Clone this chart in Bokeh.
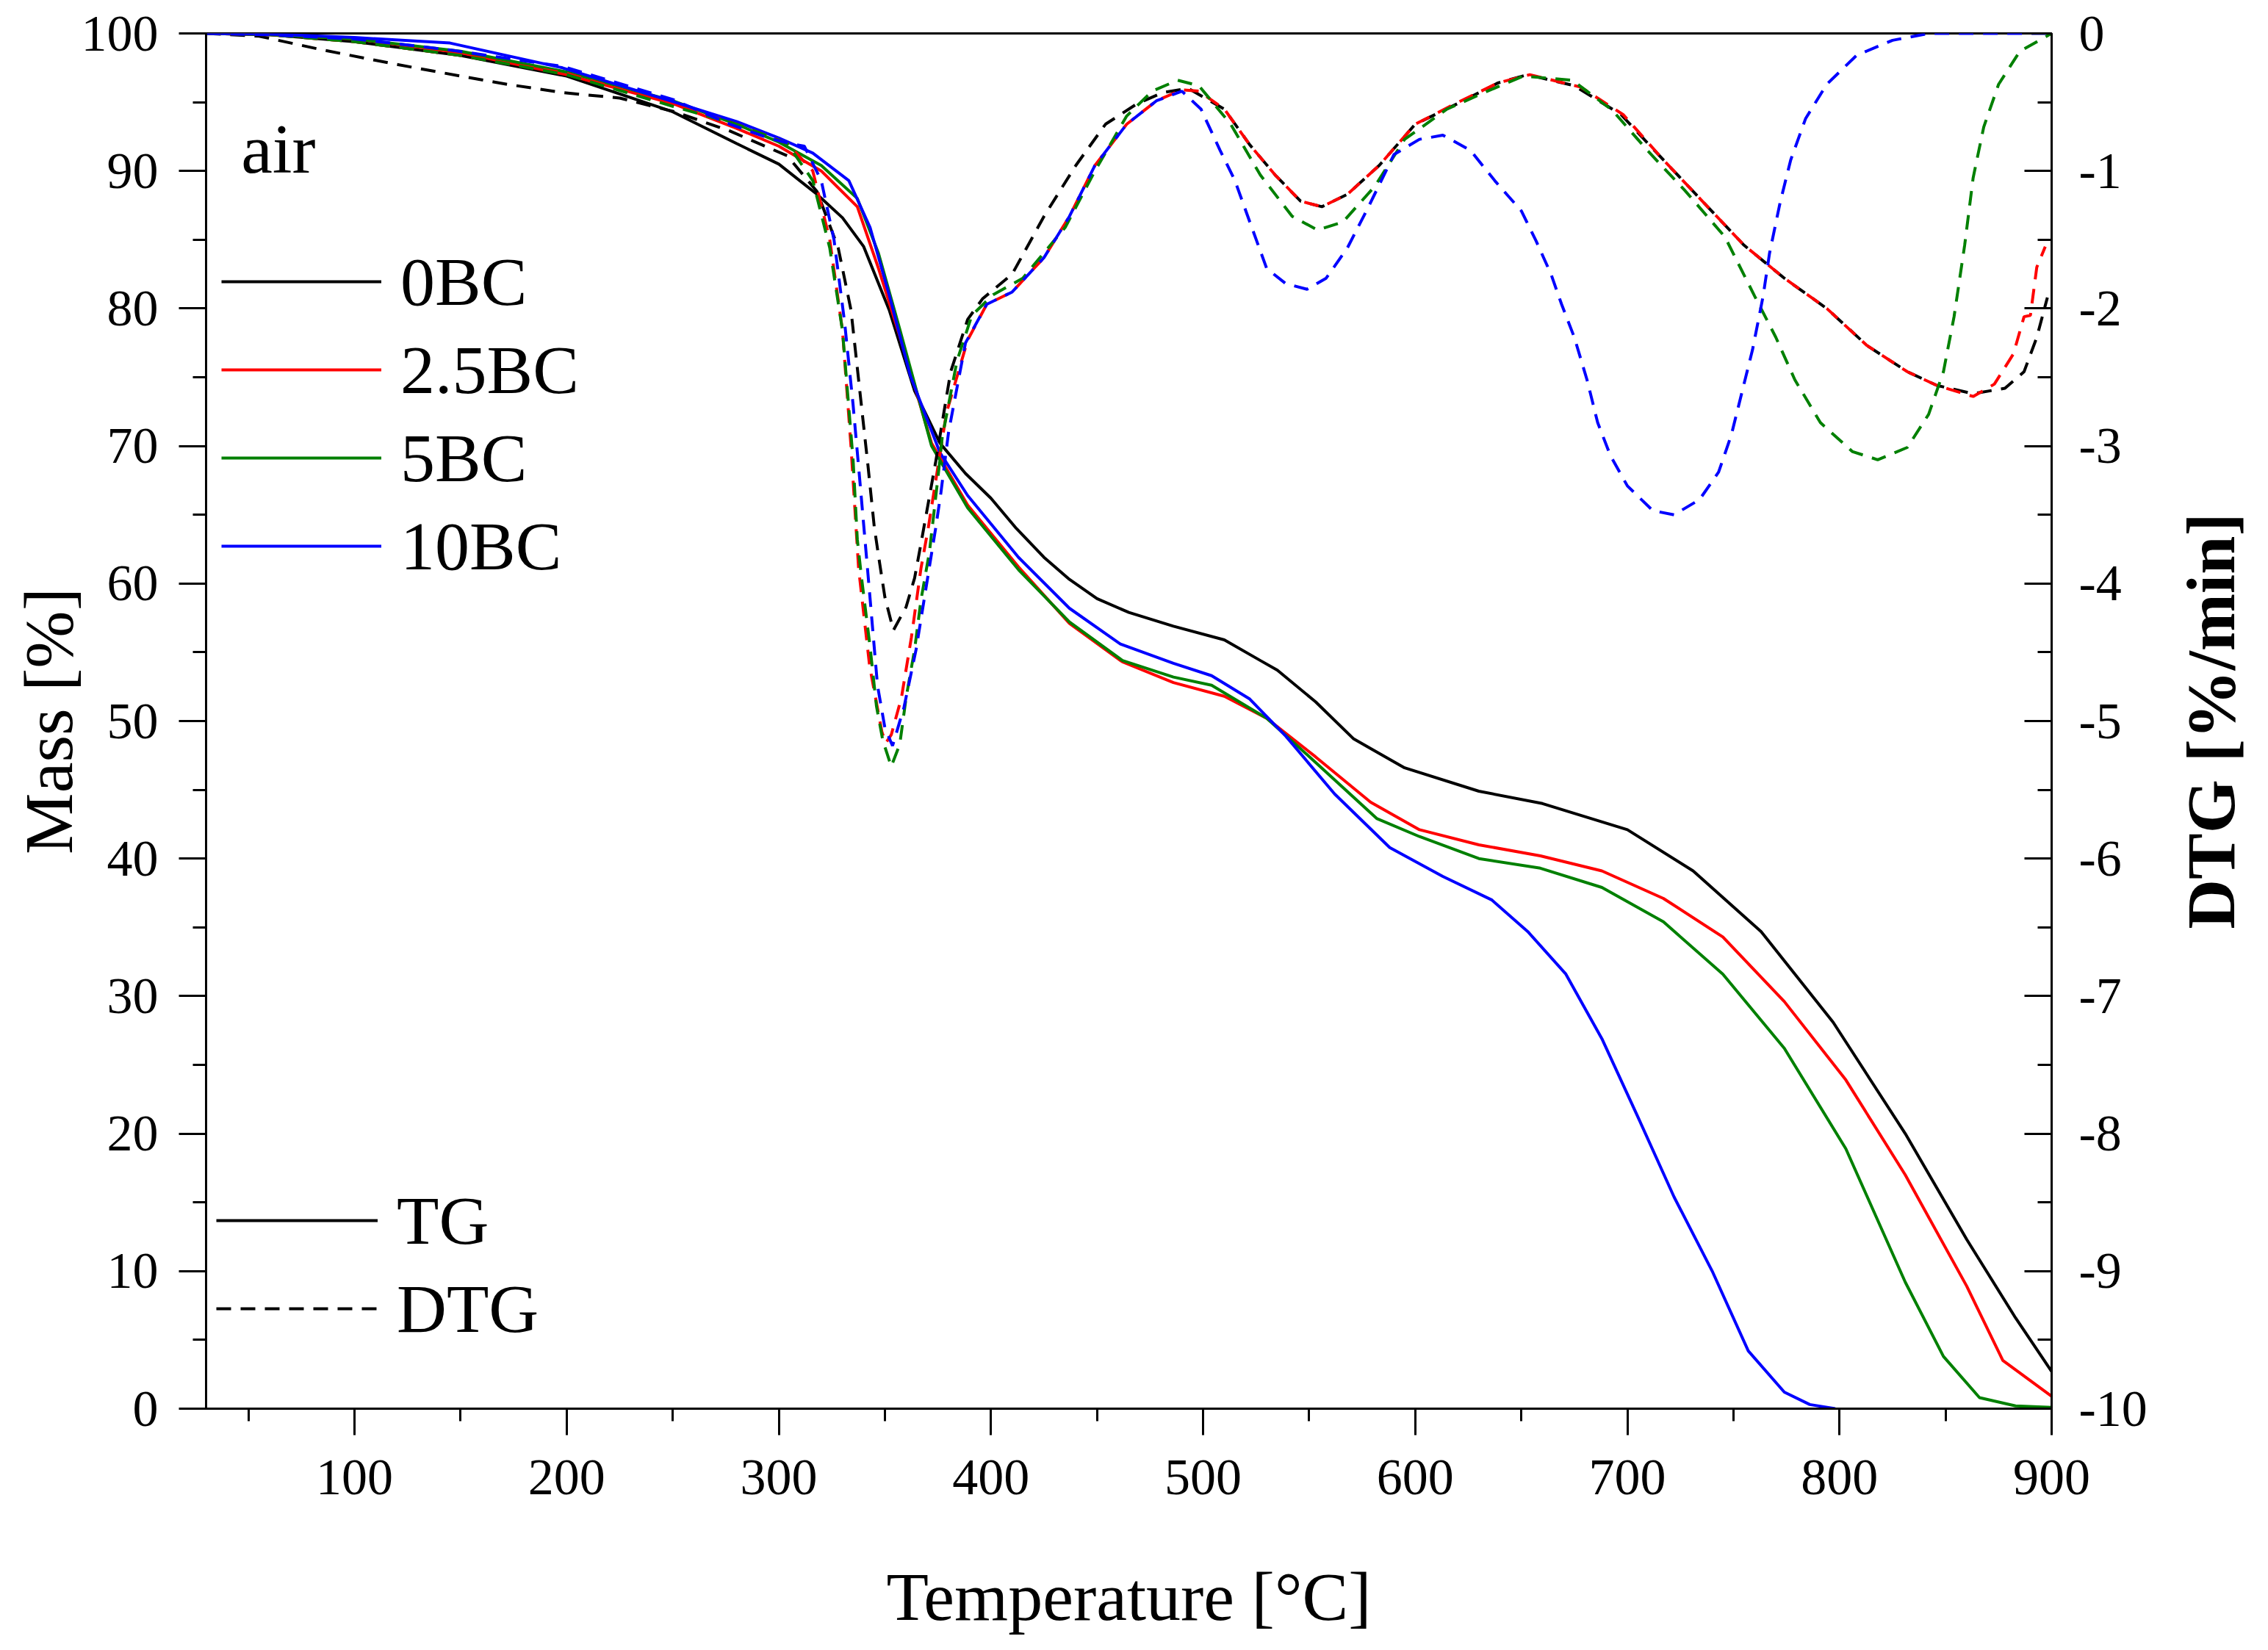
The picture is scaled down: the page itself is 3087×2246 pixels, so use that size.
import math
from bokeh.plotting import figure
from bokeh.models import (Range1d, LinearAxis, FixedTicker, Legend, LegendItem, Label,
                          PrintfTickFormatter)
from bokeh.embed import file_html
from bokeh.resources import INLINE

FONT = "Liberation Serif"

# TG curves: (temperature [C], mass [%])
tg_0bc = [(30, 100), (60, 99.9), (100, 99.4), (150, 98.4), (200, 96.9), (250, 94.3), (280, 92.0),
          (300, 90.5), (318, 88.3), (330, 86.6), (340, 84.5), (352, 79.9), (364, 74.0), (376, 70.2),
          (388, 68.0), (400, 66.2), (412, 64.0), (425, 61.9), (437, 60.3), (450, 58.9), (465, 57.9),
          (486, 56.9), (510, 55.9), (527, 54.4), (535, 53.7), (553, 51.4), (571, 48.7), (595, 46.6),
          (630, 44.9), (660, 44.0), (700, 42.1), (731, 39.1), (763, 34.7), (797, 28.1), (831, 20.0),
          (860, 12.3), (883, 6.6), (900, 2.7)]
tg_25bc = [(30, 100), (60, 99.9), (100, 99.6), (150, 98.6), (200, 97.0), (250, 94.9), (280, 93.1),
           (300, 91.8), (320, 90.0), (337, 87.4), (347, 82.9), (357, 78.0), (372, 70.2), (389, 65.7),
           (413, 61.2), (437, 57.1), (462, 54.3), (486, 52.8), (510, 51.8), (530, 50.2), (553, 47.4),
           (579, 44.1), (602, 42.1), (630, 41.0), (659, 40.2), (688, 39.1), (717, 37.1), (745, 34.3),
           (774, 29.6), (803, 23.9), (831, 17.0), (860, 8.9), (877, 3.5), (900, 0.9)]
tg_5bc = [(30, 100), (60, 99.9), (100, 99.6), (150, 98.7), (200, 97.2), (250, 95.1), (280, 93.4),
          (300, 92.1), (320, 90.4), (337, 88.0), (347, 84.0), (357, 78.5), (372, 70.0), (389, 65.5),
          (413, 61.0), (437, 57.2), (462, 54.4), (486, 53.2), (504, 52.6), (530, 50.2), (553, 47.0),
          (582, 42.9), (602, 41.6), (630, 40.0), (659, 39.3), (688, 37.9), (717, 35.4), (745, 31.6),
          (774, 26.2), (803, 18.9), (831, 9.2), (849, 3.8), (866, 0.8), (883, 0.2), (900, 0.1)]
tg_10bc = [(30, 100), (60, 99.95), (100, 99.7), (145, 99.3), (198, 97.5), (251, 95.0), (280, 93.6),
           (300, 92.4), (316, 91.3), (333, 89.3), (343, 85.9), (352, 81.0), (362, 75.1), (376, 69.5),
           (389, 66.4), (413, 61.9), (437, 58.2), (461, 55.6), (486, 54.2), (504, 53.3), (522, 51.6),
           (539, 48.9), (562, 44.7), (588, 40.8), (613, 38.7), (636, 37.0), (653, 34.7), (671, 31.6),
           (688, 26.9), (705, 21.2), (722, 15.4), (740, 10.0), (757, 4.2), (774, 1.2), (786, 0.3),
           (798, 0.0)]

# DTG curves: (temperature [C], DTG [%/min])
dtg_0bc = [(30, 0), (55, -0.02), (85, -0.12), (118, -0.22), (150, -0.31), (172, -0.37), (198, -0.43),
           (225, -0.47), (251, -0.57), (277, -0.71), (304, -0.89), (318, -1.15), (328, -1.56),
           (334, -2.01), (342, -3.14), (345, -3.59), (347.5, -3.85), (350, -4.1), (354, -4.34),
           (360, -4.17), (364, -3.96), (367, -3.71), (370.5, -3.41), (374, -3.11), (381, -2.46),
           (389, -2.08), (396, -1.93), (410, -1.75), (425, -1.33), (440, -0.96), (454, -0.66),
           (469, -0.51), (481, -0.43), (493, -0.40), (510, -0.55), (522, -0.81), (534, -1.03),
           (546, -1.22), (556, -1.26), (568, -1.17), (583, -0.96), (600, -0.66), (620, -0.51),
           (639, -0.36), (653, -0.30), (675, -0.38), (697, -0.59), (717, -0.92), (736, -1.23),
           (755, -1.54), (774, -1.78), (794, -2.0), (813, -2.27), (832, -2.46), (846, -2.56),
           (863, -2.62), (878, -2.58), (887, -2.46), (893, -2.21), (898, -1.92)]
dtg_25bc = [(30, 0), (60, -0.01), (100, -0.06), (150, -0.16), (200, -0.29), (250, -0.52), (280, -0.66),
            (304, -0.80), (316, -1.0), (324, -1.5), (330, -2.16), (334, -3.0), (337.6, -3.89),
            (342.8, -4.6), (348.6, -5.08), (350.4, -5.16), (353, -5.1), (357.8, -4.83), (362.5, -4.39),
            (367, -3.89), (370.5, -3.59), (379, -2.76), (389, -2.23), (398, -1.97), (410, -1.88),
            (425, -1.63), (437, -1.33), (449, -0.96), (464, -0.66), (478, -0.49), (490, -0.41),
            (498, -0.42), (510, -0.55), (522, -0.81), (534, -1.03), (546, -1.22), (556, -1.26),
            (568, -1.17), (583, -0.96), (600, -0.66), (619, -0.51), (639, -0.36), (654, -0.30),
            (678, -0.39), (698, -0.59), (717, -0.92), (736, -1.23), (755, -1.54), (774, -1.78),
            (794, -2.0), (813, -2.27), (832, -2.46), (846, -2.56), (863, -2.64), (873, -2.55),
            (882, -2.33), (887, -2.06), (890, -2.05), (893, -1.7), (897, -1.55)]
dtg_5bc = [(30, 0), (60, -0.01), (100, -0.06), (150, -0.16), (200, -0.3), (250, -0.53), (280, -0.66),
           (304, -0.80), (316, -1.07), (324, -1.56), (330, -2.16), (335, -3.1), (337, -3.68),
           (339, -3.96), (343, -4.46), (346, -4.89), (349, -5.14), (353, -5.33), (357, -5.17),
           (360, -4.83), (364, -4.48), (367, -4.12), (371, -3.77), (373, -3.5), (375, -3.23),
           (377, -2.94), (384, -2.38), (391, -2.05), (401, -1.90), (415, -1.78), (435, -1.41),
           (449, -1.0), (464, -0.6), (476, -0.42), (488, -0.34), (498, -0.38), (513, -0.66),
           (527, -1.03), (542, -1.33), (554, -1.43), (566, -1.37), (581, -1.11), (595, -0.77),
           (615, -0.55), (634, -0.42), (651, -0.31), (674, -0.34), (693, -0.56), (710, -0.86),
           (727, -1.14), (746, -1.48), (760, -1.91), (770, -2.21), (779, -2.52), (791, -2.83),
           (806, -3.04), (818, -3.10), (832, -3.01), (842, -2.77), (849, -2.46), (854, -2.06),
           (859, -1.54), (863, -1.05), (868, -0.68), (875, -0.37), (885, -0.13), (900, 0.0)]
dtg_10bc = [(30, 0), (60, -0.01), (100, -0.04), (145, -0.12), (198, -0.24), (250, -0.48), (277, -0.66),
            (295, -0.76), (305, -0.80), (312, -0.82), (320, -1.07), (326, -1.5), (331, -2.1),
            (335, -2.7), (338.4, -3.29), (342.4, -4.0), (346.5, -4.74), (350, -5.05), (353.6, -5.18),
            (359, -4.9), (364.7, -4.48), (369.4, -4.03), (374, -3.59), (376.4, -3.34), (380, -2.9),
            (388, -2.25), (398, -1.97), (410, -1.88), (425, -1.63), (437, -1.33), (449, -0.96),
            (464, -0.66), (478, -0.49), (490, -0.42), (499, -0.55), (508, -0.85), (515, -1.07),
            (522, -1.37), (530, -1.71), (539, -1.82), (549, -1.86), (558, -1.78), (568, -1.56),
            (578, -1.26), (590, -0.88), (602, -0.77), (613, -0.74), (626, -0.85), (638, -1.08),
            (650, -1.29), (657, -1.51), (664, -1.75), (669, -1.97), (675, -2.21), (681, -2.52),
            (686, -2.83), (692, -3.07), (700, -3.29), (712, -3.47), (722, -3.50), (734, -3.39),
            (743, -3.19), (749, -2.92), (754, -2.61), (759, -2.30), (764, -1.91), (767, -1.60),
            (772, -1.23), (777, -0.92), (784, -0.62), (794, -0.37), (808, -0.16), (825, -0.05),
            (842, 0.0), (900, 0.0)]

samples = ["0BC", "2.5BC", "5BC", "10BC"]
colors = ["black", "red", "green", "blue"]
tg_data = [tg_0bc, tg_25bc, tg_5bc, tg_10bc]
dtg_data = [dtg_0bc, dtg_25bc, dtg_5bc, dtg_10bc]

x_major = [100, 200, 300, 400, 500, 600, 700, 800, 900]
x_minor = [50, 150, 250, 350, 450, 550, 650, 750, 850]
mass_major = list(range(0, 101, 10))
mass_minor = list(range(5, 100, 10))
dtg_major = list(range(-10, 1))
dtg_minor = [v + 0.5 for v in range(-10, 0)]

p = figure(width=3070, height=2230, x_range=Range1d(30, 900), y_range=Range1d(0, 100),
           output_backend="svg", toolbar_location=None,
           min_border_left=280, min_border_right=278, min_border_top=45, min_border_bottom=313)
p.extra_y_ranges = {"dtg": Range1d(-10, 0)}
p.xgrid.grid_line_color = None
p.ygrid.grid_line_color = None
p.outline_line_color = "black"
p.outline_line_width = 3
p.outline_line_alpha = 1
p.background_fill_color = "white"

tg_lines = []
for data, c in zip(tg_data, colors):
    tg_lines.append(p.line([t for t, _ in data], [m for _, m in data], line_color=c, line_width=4))
dtg_lines = []
for data, c in zip(dtg_data, colors):
    dtg_lines.append(p.line([t for t, _ in data], [d for _, d in data], line_color=c, line_width=4,
                            line_dash="20 13", y_range_name="dtg"))


def style_axis(ax):
    ax.axis_line_width = 3
    ax.axis_line_color = "black"
    ax.major_tick_line_width = 3
    ax.minor_tick_line_width = 3
    ax.major_tick_line_color = "black"
    ax.minor_tick_line_color = "black"
    ax.major_label_text_font = FONT
    ax.major_label_text_font_size = "70px"
    ax.major_label_text_color = "black"
    ax.axis_label_text_font = FONT
    ax.axis_label_text_font_size = "94px"
    ax.axis_label_text_font_style = "normal"
    ax.axis_label_text_color = "black"


xa = p.xaxis[0]
xa.ticker = FixedTicker(ticks=x_major, minor_ticks=x_minor)
xa.axis_label = "Temperature [°C]"
style_axis(xa)
xa.major_tick_out = 36
xa.major_tick_in = 0
xa.minor_tick_out = 17
xa.minor_tick_in = 0
xa.major_label_standoff = 34
xa.axis_label_standoff = 84

ya = p.yaxis[0]
ya.ticker = FixedTicker(ticks=mass_major, minor_ticks=mass_minor)
ya.axis_label = "Mass [%]"
style_axis(ya)
ya.major_tick_out = 37
ya.major_tick_in = 0
ya.minor_tick_out = 18
ya.minor_tick_in = 0
ya.major_label_standoff = 28
ya.axis_label_standoff = -10

ra = LinearAxis(y_range_name="dtg", ticker=FixedTicker(ticks=dtg_major, minor_ticks=dtg_minor),
                formatter=PrintfTickFormatter(format="%d"))
style_axis(ra)
ra.major_tick_out = 0
ra.major_tick_in = 37
ra.minor_tick_out = 0
ra.minor_tick_in = 19
ra.major_label_standoff = 37
p.add_layout(ra, "right")

# right axis title, reading bottom to top like the original; put in the side
# panel so that it is not clipped to the frame
dtg_title_x = 975
p.add_layout(Label(x=dtg_title_x, y=-5, y_range_name="dtg", text="DTG [%/min]", angle=math.pi / 2,
                   text_font=FONT, text_font_size="94px", text_font_style="bold",
                   text_align="center", text_baseline="middle", text_color="black"), "right")

# legend for samples
leg1 = Legend(items=[LegendItem(label=s, renderers=[r]) for s, r in zip(samples, tg_lines)],
              location=(21, 1120))
# legend for curve type
leg2 = Legend(items=[LegendItem(label="TG", renderers=[tg_lines[0]]),
                     LegendItem(label="DTG", renderers=[dtg_lines[0]])], location=(14, 82))

for leg, gw in ((leg1, 218), (leg2, 220)):
    leg.border_line_color = None
    leg.background_fill_alpha = 0
    leg.label_text_font = FONT
    leg.label_text_font_size = "94px"
    leg.label_text_color = "black"
    leg.glyph_width = gw
    leg.glyph_height = 108
    leg.label_height = 108
    leg.label_standoff = 26
    leg.spacing = 12
    leg.padding = 0
    leg.margin = 0
    p.add_layout(leg)

p.add_layout(Label(x=46.5, y=91.6, text="air", text_font=FONT, text_font_size="96px",
                   text_baseline="middle", text_color="black"))

open("out.html", "w").write(file_html(p, INLINE))
